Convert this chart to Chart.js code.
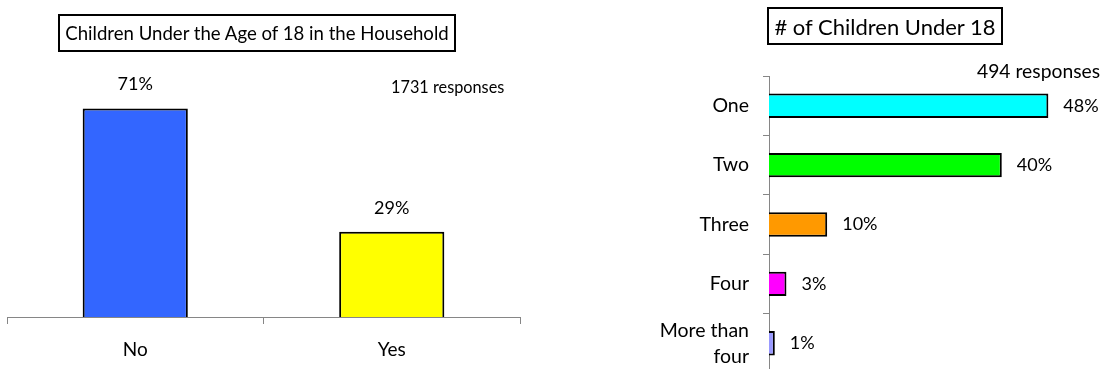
<!DOCTYPE html>
<html><head><meta charset="utf-8">
<script src="https://cdn.jsdelivr.net/npm/chart.js@4"></script>
<style>
html,body{margin:0;padding:0;width:1105px;height:369px;overflow:hidden;background:#fff;font-family:Lato, sans-serif;}
.box{position:absolute;border:2px solid #000;box-sizing:border-box;display:flex;align-items:center;justify-content:center;white-space:nowrap;color:#000;}
.note{position:absolute;white-space:nowrap;color:#000;line-height:1;}
#c1wrap{position:absolute;left:0;top:0;width:560px;height:369px;}
#c2wrap{position:absolute;left:620px;top:0;width:485px;height:400px;}
</style></head><body>
<div id="c1wrap"><canvas id="c1"></canvas></div>
<div id="c2wrap"><canvas id="c2"></canvas></div>
<div class="box" id="t1" style="left:58px;top:14px;width:398px;height:38px;font-size:18.6px">Children Under the Age of 18 in the Household</div>
<div class="box" id="t2" style="left:767px;top:7px;width:236px;height:38px;font-size:22px"># of Children Under 18</div>
<div class="note" id="n1" style="left:391px;top:79px;font-size:16.3px">1731 responses</div>
<div class="note" id="n2" style="left:977px;top:61px;font-size:19.3px">494 responses</div>
<script>
// ---- data ----
const householdCategories = ['No', 'Yes'];
const householdValues = [71, 29];
const householdColors = ['#3366FF', '#FFFF00'];

const childCountCategories = ['One', 'Two', 'Three', 'Four', ['More than', 'four']];
const childCountValues = [48, 40, 10, 3, 1];
const childCountColors = ['#00FFFF', '#00FF00', '#FF9900', '#FF00FF', '#9999FF'];

const FONT = 'Lato, sans-serif';

const valueLabels = {
  id: 'valueLabels',
  afterDatasetsDraw(chart, args, opts) {
    const ctx = chart.ctx;
    const meta = chart.getDatasetMeta(0);
    ctx.save();
    ctx.font = opts.size + 'px ' + FONT;
    ctx.fillStyle = '#000';
    ctx.textBaseline = 'middle';
    meta.data.forEach((bar, i) => {
      const txt = chart.data.datasets[0].data[i] + '%';
      if (opts.horizontal) {
        ctx.textAlign = 'left';
        ctx.fillText(txt, bar.x + opts.offset, bar.y);
      } else {
        ctx.textAlign = 'center';
        ctx.fillText(txt, bar.x, bar.y - opts.offset);
      }
    });
    ctx.restore();
  }
};

new Chart(document.getElementById('c1'), {
  type: 'bar',
  data: {
    labels: householdCategories,
    datasets: [{
      data: householdValues,
      backgroundColor: householdColors,
      borderColor: '#000',
      borderWidth: 2,
      categoryPercentage: 1,
      barPercentage: 0.41
    }]
  },
  options: {
    responsive: true, maintainAspectRatio: false, animation: false,
    layout: { padding: { left: 7, right: 40, top: 82, bottom: 0 } },
    plugins: {
      legend: { display: false }, tooltip: { enabled: false },
      valueLabels: { size: 18, offset: 24, horizontal: false }
    },
    scales: {
      x: {
        grid: { offset: true, drawOnChartArea: false, tickLength: 7, color: '#868686' },
        border: { color: '#868686', width: 1 },
        ticks: { font: { family: FONT, size: 19 }, color: '#000', padding: 14 },
        afterFit(s) { s.height = 52; }
      },
      y: { display: false, min: 0, max: 80 }
    }
  },
  plugins: [valueLabels]
});

new Chart(document.getElementById('c2'), {
  type: 'bar',
  data: {
    labels: childCountCategories,
    datasets: [{
      data: childCountValues,
      backgroundColor: childCountColors,
      borderColor: '#000',
      borderWidth: 2,
      categoryPercentage: 1,
      barPercentage: 0.41
    }]
  },
  options: {
    indexAxis: 'y',
    responsive: true, maintainAspectRatio: false, animation: false,
    layout: { padding: { left: 0, right: 45, top: 76, bottom: 27 } },
    plugins: {
      legend: { display: false }, tooltip: { enabled: false },
      valueLabels: { size: 18, offset: 15, horizontal: true }
    },
    scales: {
      y: {
        grid: { offset: true, drawOnChartArea: false, tickLength: 6, color: '#868686' },
        border: { color: '#868686', width: 1 },
        ticks: { font: { family: FONT, size: 19.5, lineHeight: 1.33 }, color: '#000', padding: 14 },
        afterFit(s) { s.width = 149; }
      },
      x: { display: false, min: 0, max: 50 }
    }
  },
  plugins: [valueLabels]
});
</script>
</body></html>
